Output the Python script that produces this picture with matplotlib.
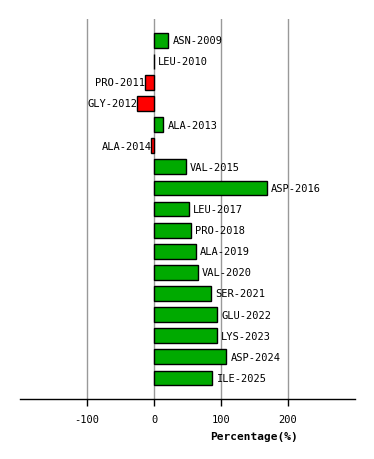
import matplotlib
matplotlib.use('Agg')
import matplotlib.pyplot as plt

# Data
labels = ['ASN-2009', 'LEU-2010', 'PRO-2011', 'GLY-2012', 'ALA-2013', 'ALA-2014',
          'VAL-2015', 'ASP-2016', 'LEU-2017', 'PRO-2018', 'ALA-2019', 'VAL-2020',
          'SER-2021', 'GLU-2022', 'LYS-2023', 'ASP-2024', 'ILE-2025']
values = [21.5, 0, -13, -25, 14, -4, 47.5, 168, 52, 55, 62.5, 65.5,
          85, 94, 94, 108, 87]
xticks = [-100, 0, 100, 200]

W, H = 374, 460
fig = plt.figure(figsize=(W / 100, H / 100), dpi=100)
ax = fig.add_axes([20 / W, 60 / H, 335 / W, 380 / H])

font = 'DejaVu Sans Mono'

# gridlines
for t in xticks:
    ax.axvline(t, color='#999999', linewidth=1, zorder=0)

colors = ['#00aa00' if v >= 0 else '#ff0000' for v in values]
ypos = list(range(len(values)))
ax.barh(ypos, values, height=0.7, color=colors, edgecolor='black', linewidth=1, zorder=2)

for y, v, lab in zip(ypos, values, labels):
    if v >= 0:
        ax.annotate(lab, (v, y), xytext=(3, 0), textcoords='offset points',
                    ha='left', va='center', fontsize=7.5, family=font)
    else:
        ax.annotate(lab, (v, y), xytext=(0, 0), textcoords='offset points',
                    ha='right', va='center', fontsize=7.5, family=font)

ax.set_xlim(-200, 300)
ax.set_ylim(17, -1)

for side in ['top', 'right', 'left']:
    ax.spines[side].set_visible(False)
ax.spines['bottom'].set_linewidth(1)
ax.set_yticks([])
ax.set_xticks(xticks)
ax.set_xticklabels([str(t) for t in xticks], fontsize=7.5, family=font)
ax.tick_params(axis='x', length=5, width=1, pad=6)

ax.set_xlabel('Percentage(%)', fontsize=8, family=font, fontweight='bold')
ax.xaxis.set_label_coords(0.70, -0.085)

fig.savefig('out.png', dpi=100)
